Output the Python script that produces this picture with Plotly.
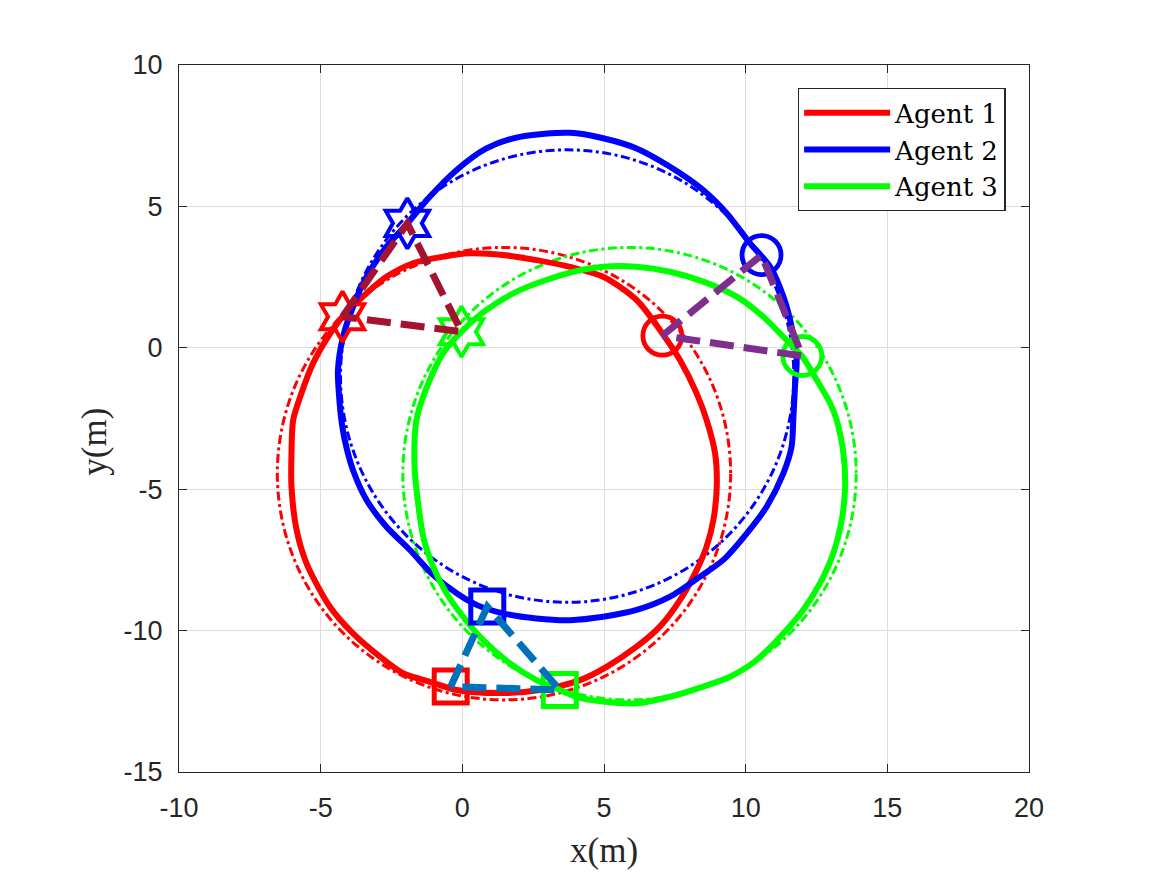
import plotly.graph_objects as go

# ---------------- data ----------------
agent_names = ["Agent 1", "Agent 2", "Agent 3"]
agent_colors = ["#FF0000", "#0000FF", "#00FF00"]

agent1_x = [-4.23, -3.38, -2.68, -1.74, -0.68, 0.26, 1.44, 2.62, 3.80, 4.97,
            6.15, 7.06, 7.68, 8.27, 8.62, 8.92, 8.98, 8.86, 8.62, 8.27,
            7.68, 6.97, 6.15, 5.09, 4.15, 2.74, 1.32, -0.20, -1.15, -2.09,
            -2.91, -3.86, -4.68, -5.50, -5.85, -6.03, -6.03, -5.97, -5.68, -5.27,
            -4.74, -4.23]
agent1_y = [1.10, 1.93, 2.51, 2.99, 3.22, 3.34, 3.28, 3.10, 2.86, 2.51,
            1.69, 0.51, -0.43, -1.61, -2.55, -3.73, -4.91, -6.09, -7.03, -7.86,
            -8.92, -9.86, -10.57, -11.28, -11.75, -12.10, -12.21, -12.10, -11.81, -11.51,
            -10.92, -10.10, -9.15, -7.62, -6.44, -4.91, -3.73, -2.55, -1.61, -0.55,
            0.39, 1.10]

agent2_x = [-1.94, -1.15, -0.20, 0.85, 2.03, 3.80, 4.97, 6.15, 7.33, 8.50,
            9.33, 10.15, 10.86, 11.33, 11.62, 11.80, 11.74, 11.68, 11.62, 11.33,
            10.74, 10.04, 9.21, 8.39, 7.33, 6.15, 4.97, 3.80, 2.62, 1.44,
            0.50, -0.20, -1.03, -1.85, -2.68, -3.38, -3.86, -4.15, -4.27, -4.33,
            -4.39, -4.21, -3.86, -3.38, -2.68, -1.94]
agent2_y = [4.40, 5.34, 6.29, 7.05, 7.46, 7.60, 7.41, 7.05, 6.40, 5.58,
            4.76, 3.70, 2.87, 1.81, 0.75, -0.43, -1.38, -2.55, -3.50, -4.44,
            -5.62, -6.56, -7.50, -8.09, -8.80, -9.27, -9.51, -9.63, -9.57, -9.39,
            -9.09, -8.68, -8.03, -7.15, -6.33, -5.38, -4.32, -3.26, -2.55, -1.96,
            -0.79, 0.39, 1.45, 2.51, 3.57, 4.40]

agent3_x = [-0.03, 0.85, 2.03, 3.80, 4.97, 6.15, 7.33, 8.50, 9.68, 10.62,
            11.33, 12.00, 12.51, 12.98, 13.21, 13.45, 13.51, 13.39, 13.09, 12.62,
            12.03, 11.33, 10.39, 9.45, 8.50, 7.33, 6.15, 4.97, 4.03, 3.44,
            2.62, 1.68, 0.73, 0.03, -0.56, -1.03, -1.38, -1.56, -1.68, -1.68,
            -1.62, -1.50, -1.15, -0.68, -0.03]
agent3_y = [0.57, 1.34, 2.04, 2.66, 2.87, 2.87, 2.69, 2.34, 1.81, 1.10,
            0.39, -0.31, -1.14, -1.96, -2.55, -3.73, -4.91, -6.09, -7.27, -8.33,
            -9.27, -10.10, -11.04, -11.63, -11.98, -12.34, -12.57, -12.51, -12.34, -12.10,
            -11.75, -11.16, -10.33, -9.51, -8.68, -7.74, -6.68, -5.50, -4.32, -3.14,
            -2.55, -2.08, -1.14, -0.19, 0.57]

# reference circular trajectories (centre and radius)
ref_cx = [1.47, 3.70, 5.90]
ref_cy = [-4.45, -1.00, -4.45]
ref_r = [8.0, 8.0, 8.0]

# formation snapshots (one point per agent)
star_x = [-4.23, -1.94, -0.03]
star_y = [1.10, 4.40, 0.57]
circ_x = [7.06, 10.56, 12.00]
circ_y = [0.43, 3.28, -0.29]
sq_x = [-0.41, 0.88, 3.44]
sq_y = [-11.98, -9.15, -12.10]

x_tick_vals = [-10, -5, 0, 5, 10, 15, 20]
x_tick_text = ["-10", "-5", "0", "5", "10", "15", "20"]
y_tick_vals = [-15, -10, -5, 0, 5, 10]
y_tick_text = ["-15", "-10", "-5", "0", "5", "10"]

# ---------------- figure ----------------
fig = go.Figure()

traj_x = [agent1_x, agent2_x, agent3_x]
traj_y = [agent1_y, agent2_y, agent3_y]

shapes = []
for i in range(3):
    shapes.append(dict(
        type="circle", xref="x", yref="y",
        x0=ref_cx[i] - ref_r[i], x1=ref_cx[i] + ref_r[i],
        y0=ref_cy[i] - ref_r[i], y1=ref_cy[i] + ref_r[i],
        line=dict(color=agent_colors[i], width=3, dash="9px,3.5px,3px,3.5px"),
        layer="between",
    ))

for i in range(3):
    fig.add_trace(go.Scatter(
        x=traj_x[i], y=traj_y[i], mode="lines", name=agent_names[i],
        line=dict(color=agent_colors[i], width=6, shape="spline", smoothing=0.8),
    ))

# formation markers
for i in range(3):
    fig.add_trace(go.Scatter(
        x=[star_x[i]], y=[star_y[i]], mode="markers", showlegend=False,
        marker=dict(symbol="hexagram-open", size=38, color=agent_colors[i],
                    line=dict(width=4, color=agent_colors[i])),
    ))
    fig.add_trace(go.Scatter(
        x=[circ_x[i]], y=[circ_y[i]], mode="markers", showlegend=False,
        marker=dict(symbol="circle-open", size=39, color=agent_colors[i],
                    line=dict(width=4.8, color=agent_colors[i])),
    ))
    fig.add_trace(go.Scatter(
        x=[sq_x[i]], y=[sq_y[i]], mode="markers", showlegend=False,
        marker=dict(symbol="square-open", size=33, color=agent_colors[i],
                    line=dict(width=5, color=agent_colors[i])),
    ))

# formation dashed triangles
form_sets = [(star_x, star_y, "#A2142F"), (circ_x, circ_y, "#7E2F8E"), (sq_x, sq_y, "#0072BD")]
for fx, fy, col in form_sets:
    fig.add_trace(go.Scatter(
        x=fx + [fx[0]], y=fy + [fy[0]], mode="lines", showlegend=False,
        line=dict(color=col, width=7, dash="24px,10px"),
    ))

axis_common = dict(
    showgrid=True, gridcolor="#dcdcdc", gridwidth=1,
    zeroline=False, showline=True, linecolor="#262626", linewidth=1.3,
    mirror="ticks", ticks="inside", ticklen=8, tickwidth=1.3, tickcolor="#262626",
    tickfont=dict(family="Liberation Sans, Arial, sans-serif", size=27, color="#262626"),
)

serif = "Liberation Serif, DejaVu Serif, serif"
legend_serif = "DejaVu Serif, Liberation Serif, serif"

fig.update_layout(
    width=1159, height=867,
    margin=dict(l=171, r=138, t=57, b=103),
    paper_bgcolor="white", plot_bgcolor="white",
    shapes=shapes,
    xaxis=dict(range=[-10, 20], tickvals=x_tick_vals, ticktext=x_tick_text,
               ticklabelstandoff=11, **axis_common),
    yaxis=dict(range=[-15, 10], tickvals=y_tick_vals, ticktext=y_tick_text,
               ticklabelstandoff=10, **axis_common),
    showlegend=True,
    legend=dict(
        x=0.728, y=0.9675, xanchor="left", yanchor="top",
        bgcolor="white", bordercolor="#262626", borderwidth=1.3,
        font=dict(family=legend_serif, size=26, color="black"),
        itemwidth=86, tracegroupgap=0,
    ),
    annotations=[
        dict(text="x(m)", xref="paper", yref="paper", x=0.5, y=-0.1117,
             xanchor="center", yanchor="middle", showarrow=False,
             font=dict(family=serif, size=35, color="#262626")),
        dict(text="y(m)", xref="paper", yref="paper", x=-0.0992, y=0.4668,
             xanchor="center", yanchor="middle", showarrow=False, textangle=-90,
             font=dict(family=serif, size=35, color="#262626")),
    ],
)

fig.write_html("out.html")
